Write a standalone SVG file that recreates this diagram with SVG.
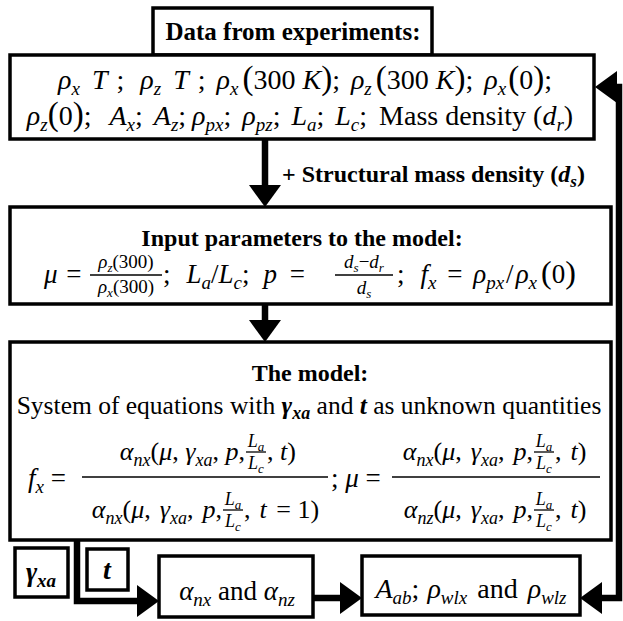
<svg xmlns="http://www.w3.org/2000/svg" width="623" height="621" viewBox="0 0 623 621">
<defs>
<marker id="ah" markerUnits="userSpaceOnUse" markerWidth="24" markerHeight="32" refX="0" refY="16" orient="auto-start-reverse">
<path d="M0,0 L22,16 L0,32 z" fill="#000"/>
</marker>
</defs>
<rect width="623" height="621" fill="#fff"/>
<g id="connectors">
<g fill="none" stroke="#000" stroke-width="6.5">
<path d="M265,139 V185" marker-end="url(#ah)"/>
<path d="M265,304 V320" marker-end="url(#ah)"/>
<path d="M77,540 V601 H137" marker-end="url(#ah)"/>
<path d="M313,598 H340" marker-end="url(#ah)"/>
<path d="M617,87 H619 V598 H602" marker-start="url(#ah)" marker-end="url(#ah)"/>
</g>
<text font-family="Liberation Serif" font-weight="bold" x="282" y="182" font-size="24">+ Structural mass density (<tspan font-style="italic">d</tspan><tspan font-style="italic" font-size="17" baseline-shift="-5">s</tspan>)</text>
</g>
<g id="title">
<rect x="153" y="8" width="279" height="47" fill="#fff" stroke="#000" stroke-width="3.5"/>
<text font-family="Liberation Serif" font-weight="bold" text-anchor="middle" x="293" y="40" font-size="25">Data from experiments:</text>
</g>
<g id="data">
<rect x="10" y="55" width="584" height="84" fill="#fff" stroke="#000" stroke-width="3.5"/>
<text font-family="Liberation Serif" text-anchor="middle" x="305" y="89" font-size="28"><tspan font-style="italic">ρ</tspan><tspan font-style="italic" font-size="19" baseline-shift="-6">x</tspan><tspan font-style="italic" dx="12">T</tspan><tspan dx="9">;</tspan><tspan font-style="italic" dx="16">ρ</tspan><tspan font-style="italic" font-size="19" baseline-shift="-6">z</tspan><tspan font-style="italic" dx="12">T</tspan><tspan dx="9">;</tspan><tspan font-style="italic" dx="11">ρ</tspan><tspan font-style="italic" font-size="19" baseline-shift="-6">x</tspan><tspan font-size="33" dx="4">(</tspan>300 <tspan font-style="italic">K</tspan><tspan font-size="33">)</tspan>;<tspan font-style="italic" dx="11">ρ</tspan><tspan font-style="italic" font-size="19" baseline-shift="-6">z</tspan><tspan font-size="33" dx="4">(</tspan>300 <tspan font-style="italic">K</tspan><tspan font-size="33">)</tspan>;<tspan font-style="italic" dx="11">ρ</tspan><tspan font-style="italic" font-size="19" baseline-shift="-6">x</tspan><tspan font-size="33" dx="2">(</tspan>0<tspan font-size="33">)</tspan>;</text>
<text font-family="Liberation Serif" text-anchor="middle" x="300" y="125" font-size="28"><tspan font-style="italic">ρ</tspan><tspan font-style="italic" font-size="19" baseline-shift="-6">z</tspan><tspan font-size="33">(</tspan>0<tspan font-size="33">)</tspan>;<tspan font-style="italic" dx="18">A</tspan><tspan font-style="italic" font-size="19" baseline-shift="-6">x</tspan>;<tspan font-style="italic" dx="11">A</tspan><tspan font-style="italic" font-size="19" baseline-shift="-6">z</tspan>;<tspan font-style="italic" dx="6">ρ</tspan><tspan font-style="italic" font-size="19" baseline-shift="-6">px</tspan>;<tspan font-style="italic" dx="11">ρ</tspan><tspan font-style="italic" font-size="19" baseline-shift="-6">pz</tspan>;<tspan font-style="italic" dx="11">L</tspan><tspan font-style="italic" font-size="19" baseline-shift="-6">a</tspan>;<tspan font-style="italic" dx="11">L</tspan><tspan font-style="italic" font-size="19" baseline-shift="-6">c</tspan>;<tspan dx="12">Mass density (</tspan><tspan font-style="italic">d</tspan><tspan font-style="italic" font-size="19" baseline-shift="-6">r</tspan>)</text>
</g>
<g id="input">
<rect x="10" y="207" width="601" height="97" fill="#fff" stroke="#000" stroke-width="3.5"/>
<text font-family="Liberation Serif" font-weight="bold" text-anchor="middle" x="302" y="246" font-size="24">Input parameters to the model:</text>
<text font-family="Liberation Serif" x="44" y="283" font-size="27"><tspan font-style="italic">μ</tspan><tspan dx="2"> =</tspan></text>
<text font-family="Liberation Serif" text-anchor="middle" x="126" y="268" font-size="19"><tspan font-style="italic">ρ</tspan><tspan font-style="italic" font-size="13" baseline-shift="-4">z</tspan>(300)</text>
<line x1="90" y1="275" x2="162" y2="275" stroke="#000" stroke-width="1.3"/>
<text font-family="Liberation Serif" text-anchor="middle" x="126" y="293" font-size="19"><tspan font-style="italic">ρ</tspan><tspan font-style="italic" font-size="13" baseline-shift="-4">x</tspan>(300)</text>
<text font-family="Liberation Serif" x="163" y="283" font-size="27">;<tspan font-style="italic" dx="16">L</tspan><tspan font-style="italic" font-size="19" baseline-shift="-6">a</tspan>/<tspan font-style="italic">L</tspan><tspan font-style="italic" font-size="19" baseline-shift="-6">c</tspan>;<tspan font-style="italic" dx="14">p</tspan><tspan dx="6"> =</tspan></text>
<text font-family="Liberation Serif" text-anchor="middle" x="364" y="268" font-size="19"><tspan font-style="italic">d</tspan><tspan font-style="italic" font-size="13" baseline-shift="-4">s</tspan>−<tspan font-style="italic">d</tspan><tspan font-style="italic" font-size="13" baseline-shift="-4">r</tspan></text>
<line x1="335" y1="275" x2="393" y2="275" stroke="#000" stroke-width="1.3"/>
<text font-family="Liberation Serif" text-anchor="middle" x="364" y="294" font-size="19"><tspan font-style="italic">d</tspan><tspan font-style="italic" font-size="13" baseline-shift="-4">s</tspan></text>
<text font-family="Liberation Serif" x="397" y="283" font-size="27">;<tspan font-style="italic" dx="16">f</tspan><tspan font-style="italic" font-size="19" baseline-shift="-6">x</tspan><tspan dx="4"> = </tspan><tspan font-style="italic" dx="4">ρ</tspan><tspan font-style="italic" font-size="19" baseline-shift="-6">px</tspan><tspan dx="2">/</tspan><tspan font-style="italic" dx="2">ρ</tspan><tspan font-style="italic" font-size="19" baseline-shift="-6">x</tspan><tspan font-size="32" dx="4">(</tspan>0<tspan font-size="32">)</tspan></text>
</g>
<g id="model">
<rect x="10" y="342" width="601" height="198" fill="#fff" stroke="#000" stroke-width="3.5"/>
<text font-family="Liberation Serif" font-weight="bold" text-anchor="middle" x="310" y="381" font-size="24">The model:</text>
<text font-family="Liberation Serif" text-anchor="middle" x="309" y="414" font-size="25.5">System of equations with <tspan font-weight="bold" font-style="italic">γ</tspan><tspan font-weight="bold" font-style="italic" font-size="18" baseline-shift="-5">xa</tspan> and <tspan font-weight="bold" font-style="italic">t</tspan> as unknown quantities</text>
<text font-family="Liberation Serif" x="28" y="487" font-size="27"><tspan font-style="italic">f</tspan><tspan font-style="italic" font-size="19" baseline-shift="-6">x</tspan> =</text>
<line x1="82" y1="477" x2="328" y2="477" stroke="#000" stroke-width="1.3"/>
<text font-family="Liberation Serif" text-anchor="end" x="245" y="460" font-size="26"><tspan font-style="italic">α</tspan><tspan font-style="italic" font-size="18" baseline-shift="-6">nx</tspan>(<tspan font-style="italic">μ</tspan>, <tspan font-style="italic">γ</tspan><tspan font-style="italic" font-size="18" baseline-shift="-6">xa</tspan>, <tspan font-style="italic">p</tspan>,</text>
<text font-family="Liberation Serif" font-style="italic" text-anchor="middle" x="256" y="447" font-size="18">L<tspan font-size="13" baseline-shift="-4">a</tspan></text>
<line x1="246" y1="452" x2="266" y2="452" stroke="#000" stroke-width="1.3"/>
<text font-family="Liberation Serif" font-style="italic" text-anchor="middle" x="256" y="469" font-size="18">L<tspan font-size="13" baseline-shift="-4">c</tspan></text>
<text font-family="Liberation Serif" x="267" y="460" font-size="26">, <tspan font-style="italic">t</tspan>)</text>
<text font-family="Liberation Serif" text-anchor="end" x="222" y="518" font-size="26"><tspan font-style="italic">α</tspan><tspan font-style="italic" font-size="18" baseline-shift="-6">nx</tspan>(<tspan font-style="italic">μ</tspan>,<tspan font-style="italic" dx="9">γ</tspan><tspan font-style="italic" font-size="18" baseline-shift="-6">xa</tspan>,<tspan font-style="italic" dx="9">p</tspan>,</text>
<text font-family="Liberation Serif" font-style="italic" text-anchor="middle" x="233" y="505" font-size="18">L<tspan font-size="13" baseline-shift="-4">a</tspan></text>
<line x1="223" y1="510" x2="243" y2="510" stroke="#000" stroke-width="1.3"/>
<text font-family="Liberation Serif" font-style="italic" text-anchor="middle" x="233" y="527" font-size="18">L<tspan font-size="13" baseline-shift="-4">c</tspan></text>
<text font-family="Liberation Serif" x="244" y="518" font-size="26">,<tspan font-style="italic" dx="9">t</tspan><tspan dx="3"> = 1)</tspan></text>
<text font-family="Liberation Serif" x="331" y="487" font-size="27">; <tspan font-style="italic">μ</tspan> =</text>
<line x1="392" y1="477" x2="600" y2="477" stroke="#000" stroke-width="1.3"/>
<text font-family="Liberation Serif" text-anchor="end" x="533" y="460" font-size="26"><tspan font-style="italic">α</tspan><tspan font-style="italic" font-size="18" baseline-shift="-6">nx</tspan>(<tspan font-style="italic">μ</tspan>,<tspan font-style="italic" dx="9">γ</tspan><tspan font-style="italic" font-size="18" baseline-shift="-6">xa</tspan>,<tspan font-style="italic" dx="9">p</tspan>,</text>
<text font-family="Liberation Serif" font-style="italic" text-anchor="middle" x="544" y="447" font-size="18">L<tspan font-size="13" baseline-shift="-4">a</tspan></text>
<line x1="534" y1="452" x2="554" y2="452" stroke="#000" stroke-width="1.3"/>
<text font-family="Liberation Serif" font-style="italic" text-anchor="middle" x="544" y="469" font-size="18">L<tspan font-size="13" baseline-shift="-4">c</tspan></text>
<text font-family="Liberation Serif" x="555" y="460" font-size="26">,<tspan font-style="italic" dx="9">t</tspan>)</text>
<text font-family="Liberation Serif" text-anchor="end" x="533" y="518" font-size="26"><tspan font-style="italic">α</tspan><tspan font-style="italic" font-size="18" baseline-shift="-6">nz</tspan>(<tspan font-style="italic">μ</tspan>,<tspan font-style="italic" dx="9">γ</tspan><tspan font-style="italic" font-size="18" baseline-shift="-6">xa</tspan>,<tspan font-style="italic" dx="9">p</tspan>,</text>
<text font-family="Liberation Serif" font-style="italic" text-anchor="middle" x="544" y="505" font-size="18">L<tspan font-size="13" baseline-shift="-4">a</tspan></text>
<line x1="534" y1="510" x2="554" y2="510" stroke="#000" stroke-width="1.3"/>
<text font-family="Liberation Serif" font-style="italic" text-anchor="middle" x="544" y="527" font-size="18">L<tspan font-size="13" baseline-shift="-4">c</tspan></text>
<text font-family="Liberation Serif" x="555" y="518" font-size="26">,<tspan font-style="italic" dx="9">t</tspan>)</text>
</g>
<g id="gamma">
<rect x="15" y="548" width="53" height="49" fill="#fff" stroke="#000" stroke-width="3.5"/>
<text font-family="Liberation Serif" font-weight="bold" font-style="italic" text-anchor="middle" x="41" y="581" font-size="27">γ<tspan font-size="19" baseline-shift="-6">xa</tspan></text>
</g>
<g id="tbox">
<rect x="87" y="549" width="41" height="41" fill="#fff" stroke="#000" stroke-width="3.5"/>
<text font-family="Liberation Serif" font-weight="bold" font-style="italic" text-anchor="middle" x="107" y="579" font-size="28">t</text>
</g>
<g id="alpha">
<rect x="159" y="556" width="154" height="61" fill="#fff" stroke="#000" stroke-width="3.5"/>
<text font-family="Liberation Serif" text-anchor="middle" x="237" y="600" font-size="27"><tspan font-style="italic">α</tspan><tspan font-style="italic" font-size="19" baseline-shift="-6">nx</tspan> and <tspan font-style="italic">α</tspan><tspan font-style="italic" font-size="19" baseline-shift="-6">nz</tspan></text>
</g>
<g id="result">
<rect x="362" y="556" width="218" height="59" fill="#fff" stroke="#000" stroke-width="3.5"/>
<text font-family="Liberation Serif" text-anchor="middle" x="471" y="598" font-size="28"><tspan font-style="italic">A</tspan><tspan font-style="italic" font-size="19" baseline-shift="-6">ab</tspan>;<tspan font-style="italic" dx="8">ρ</tspan><tspan font-style="italic" font-size="19" baseline-shift="-6">wlx</tspan><tspan dx="3"> and </tspan><tspan font-style="italic" dx="3">ρ</tspan><tspan font-style="italic" font-size="19" baseline-shift="-6">wlz</tspan></text>
</g>
</svg>
